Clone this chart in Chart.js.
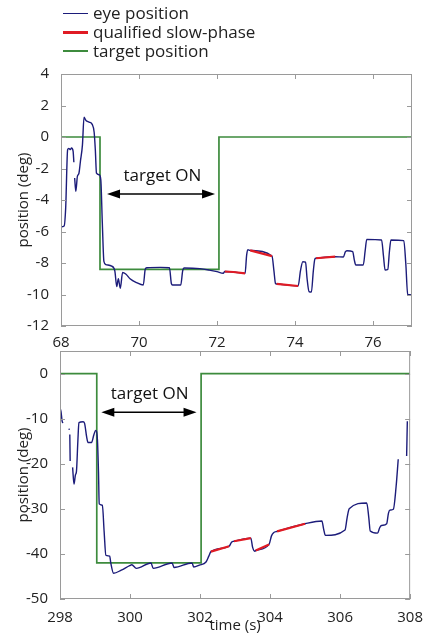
<!DOCTYPE html>
<html lang="en">
<head>
<meta charset="UTF-8">
<title>Eye position and target position</title>
<script src="https://cdn.jsdelivr.net/npm/chart.js"></script>
<style>
    body { margin: 0; background: #fff; font-family: "Open Sans", sans-serif; }
    #page { position: relative; width: 425px; height: 637px; overflow: hidden; }
    canvas { position: absolute; left: 0; }
    #topChart { top: 0; }
    #bottomChart { top: 338px; }
    .legend { position: absolute; left: 63px; top: 4px; font-size: 17px; line-height: 18.8px; color: #222; z-index: 2; }
    .legend div { display: flex; align-items: center; white-space: nowrap; }
    .legend .swatch { display: inline-block; width: 25px; margin-right: 5px; }
</style>
</head>
<body>
<div id="page">
    <div class="legend">
        <div><span class="swatch" style="border-top:1.3px solid #1c1c7a"></span>eye position</div>
        <div><span class="swatch" style="border-top:3px solid #e01b24"></span>qualified slow-phase</div>
        <div><span class="swatch" style="border-top:2px solid #3d8b3d"></span>target position</div>
    </div>
    <canvas id="topChart" width="425" height="352"></canvas>
    <canvas id="bottomChart" width="425" height="299"></canvas>
</div>

<script>
    // top panel (68-77 s)
    const topTime = [68.0, 68.08, 68.12, 68.17, 68.2, 68.24, 68.27, 68.31, 68.33, 68.34, 68.35, 68.38, 68.42, 68.46, 68.5, 68.55, 68.59, 68.64, 68.72, 68.8, 68.85, 68.88, 68.91, 68.98, 69.02, 69.06, 69.1, 69.15, 69.3, 69.38, 69.43, 69.47, 69.52, 69.58, 69.66, 69.77, 69.94, 70.11, 70.16, 70.2, 70.55, 70.78, 70.83, 70.86, 71.07, 71.12, 71.16, 71.56, 71.8, 72.0, 72.16, 72.2, 72.42, 72.72, 72.76, 72.79, 72.85, 73.41, 73.46, 73.5, 73.53, 74.08, 74.14, 74.2, 74.27, 74.31, 74.36, 74.42, 74.47, 74.51, 74.54, 75.03, 75.24, 75.29, 75.33, 75.48, 75.52, 75.56, 75.75, 75.8, 75.84, 76.22, 76.27, 76.31, 76.38, 76.42, 76.46, 76.79, 76.84, 76.89, 77.0];
    const topEye = [-5.7, -5.65, -4.5, -0.8, -0.72, -0.8, -0.7, -0.9, -1.6, null, -2.6, -3.45, -2.5, -2.3, -1.5, -0.5, 1.25, 1.05, 0.95, 0.8, 0.3, -0.8, -2.3, -2.4, -2.7, -5.5, -7.9, -8.1, -8.2, -8.5, -9.5, -9.0, -9.6, -8.6, -8.7, -9.0, -9.25, -9.4, -8.4, -8.3, -8.28, -8.3, -9.3, -9.4, -9.4, -8.5, -8.32, -8.36, -8.45, -8.55, -8.65, -8.54, -8.57, -8.66, -7.5, -7.15, -7.2, -7.56, -8.5, -9.3, -9.33, -9.46, -8.5, -7.92, -7.95, -9.0, -9.82, -9.85, -8.5, -7.75, -7.7, -7.6, -7.62, -7.3, -7.22, -7.28, -7.8, -8.13, -8.13, -7.2, -6.5, -6.54, -7.6, -8.44, -8.4, -7.3, -6.54, -6.58, -8.0, -10.0, -10.03];
    const topSlowTime = [72.2, 72.42, 72.72, 72.78, 72.85, 73.41, 73.47, 73.53, 74.08, 74.3, 74.54, 75.03];
    const topSlowPos = [-8.54, -8.57, -8.66, null, -7.2, -7.56, null, -9.33, -9.46, null, -7.7, -7.6];
    const topTargetTime = [68, 69.0, 69.0, 72.05, 72.05, 77];
    const topTargetPos = [0, 0, -8.4, -8.4, 0, 0];
    const topXTicks = [68, 70, 72, 74, 76];
    const topYTicks = [4, 2, 0, -2, -4, -6, -8, -10, -12];

    // bottom panel (298-308 s)
    const bottomTime = [298.0, 298.03, 298.06, 298.08, 298.17, 298.26, 298.265, 298.27, 298.28, 298.29, 298.33, 298.36, 298.4, 298.44, 298.47, 298.51, 298.54, 298.66, 298.7, 298.76, 298.8, 298.9, 298.97, 299.02, 299.07, 299.1, 299.12, 299.21, 299.26, 299.31, 299.42, 299.45, 299.53, 299.75, 299.99, 300.05, 300.18, 300.6, 300.66, 301.2, 301.26, 301.77, 301.82, 301.98, 302.17, 302.25, 302.31, 302.83, 302.9, 302.97, 303.45, 303.5, 303.56, 303.59, 303.97, 304.04, 304.1, 304.2, 305.0, 305.48, 305.53, 305.58, 306.14, 306.2, 306.26, 306.76, 306.82, 306.86, 307.07, 307.13, 307.18, 307.33, 307.38, 307.42, 307.52, 307.6, 307.66, 307.8, 307.9, 307.92];
    const bottomEye = [-7.6, -8.5, -10.5, -11.0, null, -12.2, -12.5, null, -13.5, -19.4, null, -20.8, -24.5, -22.5, -21.7, -15.0, -10.9, -10.7, -11.0, -14.0, -15.3, -15.3, -13.5, -12.6, -14.8, -22.0, -28.9, -29.2, -35.0, -40.3, -40.5, -42.0, -44.3, -43.6, -42.6, -42.4, -43.2, -42.0, -43.2, -42.0, -43.0, -42.0, -42.9, -42.5, -41.8, -40.5, -39.5, -38.3, -37.4, -37.2, -36.5, -38.5, -39.4, -39.25, -37.9, -36.0, -35.3, -35.0, -33.3, -32.7, -34.5, -35.9, -34.7, -32.0, -30.0, -28.7, -32.0, -34.9, -35.4, -34.2, -33.7, -33.3, -31.0, -30.3, -30.1, -25.0, -19.0, null, -18.3, -10.6];
    const bottomSlowTime = [302.31, 302.83, 302.9, 302.97, 303.45, 303.52, 303.59, 303.97, 304.1, 304.2, 305.0];
    const bottomSlowPos = [-39.5, -38.3, null, -37.2, -36.5, null, -39.25, -37.9, null, -35.0, -33.3];
    const bottomTargetTime = [298, 299.05, 299.05, 302.03, 302.03, 308];
    const bottomTargetPos = [0, 0, -42, -42, 0, 0];
    const bottomXTicks = [298, 300, 302, 304, 306, 308];
    const bottomYTicks = [0, -10, -20, -30, -40, -50];

    const FONT = "'Open Sans', sans-serif";
    const TEXT = "#222";

    function points(xs, ys) {
        return xs.map((x, i) => ({ x: x, y: ys[i] }));
    }

    // MATLAB-like box with inward ticks, plus "target ON" arrow
    const boxPlugin = {
        id: "box",
        afterDatasetsDraw(chart, args, opts) {
            const ctx = chart.ctx;
            const a = chart.chartArea;
            const xs = chart.scales.x, ys = chart.scales.y;
            ctx.save();
            ctx.strokeStyle = "#9a9a9a";
            ctx.lineWidth = 1;
            ctx.strokeRect(a.left + 0.5, a.top + 0.5, a.right - a.left - 1, a.bottom - a.top - 1);
            ctx.beginPath();
            xs.ticks.forEach(t => {
                const px = Math.round(xs.getPixelForValue(t.value)) + 0.5;
                ctx.moveTo(px, a.bottom); ctx.lineTo(px, a.bottom - 5);
                ctx.moveTo(px, a.top); ctx.lineTo(px, a.top + 5);
            });
            ys.ticks.forEach(t => {
                const py = Math.round(ys.getPixelForValue(t.value)) + 0.5;
                ctx.moveTo(a.left, py); ctx.lineTo(a.left + 5, py);
                ctx.moveTo(a.right, py); ctx.lineTo(a.right - 5, py);
            });
            ctx.stroke();

            // annotation
            const n = opts.note;
            const x1 = xs.getPixelForValue(n.from), x2 = xs.getPixelForValue(n.to);
            const y = ys.getPixelForValue(n.arrowY);
            ctx.strokeStyle = "#000";
            ctx.fillStyle = "#000";
            ctx.lineWidth = 1.6;
            ctx.beginPath();
            ctx.moveTo(x1 + 8, y); ctx.lineTo(x2 - 8, y);
            ctx.stroke();
            ctx.beginPath();
            ctx.moveTo(x1, y); ctx.lineTo(x1 + 13, y - 4.5); ctx.lineTo(x1 + 13, y + 4.5); ctx.closePath();
            ctx.moveTo(x2, y); ctx.lineTo(x2 - 13, y - 4.5); ctx.lineTo(x2 - 13, y + 4.5); ctx.closePath();
            ctx.fill();
            ctx.font = "17px " + FONT;
            ctx.fillStyle = "#111";
            ctx.textAlign = "center";
            ctx.textBaseline = "middle";
            ctx.fillText(n.text, xs.getPixelForValue(n.textX), ys.getPixelForValue(n.textY));
            ctx.restore();
        }
    };

    function makeChart(id, cfg) {
        return new Chart(document.getElementById(id), {
            type: "line",
            data: {
                datasets: [
                    { data: points(cfg.slowTime, cfg.slowPos), borderColor: "#e01b24", borderWidth: 2.2, order: 0 },
                    { data: points(cfg.time, cfg.eye), borderColor: "#1c1c7a", borderWidth: 1.4, order: 1, cubicInterpolationMode: "monotone" },
                    { data: points(cfg.targetTime, cfg.targetPos), borderColor: "#3d8b3d", borderWidth: 1.7, order: 2 }
                ]
            },
            options: {
                responsive: false,
                animation: false,
                spanGaps: false,
                elements: { point: { radius: 0 }, line: { tension: 0, borderCapStyle: "butt" } },
                layout: { padding: cfg.padding },
                plugins: { legend: { display: false }, tooltip: { enabled: false }, box: { note: cfg.note } },
                scales: {
                    x: {
                        type: "linear", min: cfg.xMin, max: cfg.xMax,
                        afterBuildTicks: s => { s.ticks = cfg.xTicks.map(v => ({ value: v })); },
                        afterFit: s => { s.height = cfg.xHeight; },
                        grid: { display: false }, border: { display: false },
                        ticks: { color: TEXT, font: { family: FONT, size: 15 }, padding: cfg.xPad, maxRotation: 0 },
                        title: { display: !!cfg.xTitle, text: cfg.xTitle, color: TEXT, font: { family: FONT, size: 15 }, padding: { top: 0, bottom: 2 } }
                    },
                    y: {
                        type: "linear", min: cfg.yMin, max: cfg.yMax,
                        afterBuildTicks: s => { s.ticks = cfg.yTicks.map(v => ({ value: v })); },
                        afterFit: s => { s.width = cfg.yWidth; },
                        grid: { display: false }, border: { display: false },
                        ticks: { color: TEXT, font: { family: FONT, size: 15 }, padding: 4 },
                        title: { display: true, text: "position (deg)", color: TEXT, font: { family: FONT, size: 15 }, padding: { top: 15, bottom: 0 } }
                    }
                }
            },
            plugins: [boxPlugin]
        });
    }

    makeChart("topChart", {
        time: topTime, eye: topEye, slowTime: topSlowTime, slowPos: topSlowPos,
        targetTime: topTargetTime, targetPos: topTargetPos,
        xMin: 68, xMax: 77, yMin: -12, yMax: 4, xTicks: topXTicks, yTicks: topYTicks,
        padding: { top: 74, right: 13, left: 0, bottom: 0 }, xHeight: 26, yWidth: 61, xPad: 0,
        note: { text: "target ON", from: 69.18, to: 71.95, arrowY: -3.62, textX: 70.6, textY: -2.48 }
    });

    makeChart("bottomChart", {
        time: bottomTime, eye: bottomEye, slowTime: bottomSlowTime, slowPos: bottomSlowPos,
        targetTime: bottomTargetTime, targetPos: bottomTargetPos,
        xMin: 298, xMax: 308, yMin: -50, yMax: 5, xTicks: bottomXTicks, yTicks: bottomYTicks,
        padding: { top: 11, right: 13, left: 0, bottom: 0 }, xHeight: 38, yWidth: 60, xPad: 2, xTitle: "time (s)",
        note: { text: "target ON", from: 299.18, to: 301.9, arrowY: -8.6, textX: 300.56, textY: -4.6 }
    });
</script>
</body>
</html>
